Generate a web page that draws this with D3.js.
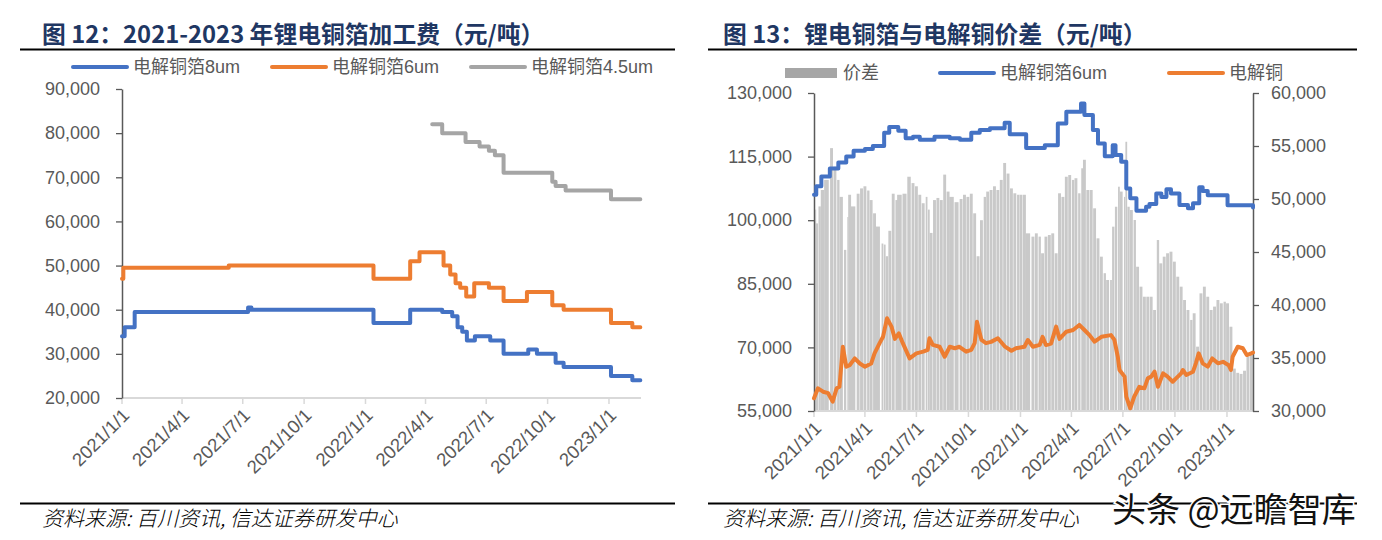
<!DOCTYPE html>
<html><head><meta charset="utf-8">
<script src="https://cdn.jsdelivr.net/npm/d3@7"></script>
<style>
body{margin:0;background:#fff;}
svg text{font-family:"Liberation Sans",Arial,"Noto Sans CJK SC",sans-serif;}
</style></head><body>
<svg id="c" width="1382" height="540"></svg>
<script>
// ---------- DATA (left chart: processing fee, 元/吨) ----------
const leftTitle = "图 12：2021-2023 年锂电铜箔加工费（元/吨）";
const leftSeriesNames = ["电解铜箔8um", "电解铜箔6um", "电解铜箔4.5um"];
const foil8um = [["2021-01-01",34000],["2021-01-05",36000],["2021-01-20",39500],["2021-07-09",40500],["2021-07-14",40000],["2022-01-13",37000],["2022-03-09",40000],["2022-04-26",39500],["2022-05-11",38500],["2022-05-19",36000],["2022-05-26",35000],["2022-06-02",33000],["2022-06-14",34000],["2022-07-07",33000],["2022-07-27",30000],["2022-09-02",31000],["2022-09-15",30000],["2022-10-13",28000],["2022-10-25",27000],["2023-01-04",25000],["2023-02-05",24000],["2023-02-17",24000]];
const foil6um = [["2021-01-01",47000],["2021-01-03",49500],["2021-06-10",50000],["2022-01-13",47000],["2022-03-09",51000],["2022-03-23",53000],["2022-04-28",50000],["2022-05-08",48000],["2022-05-16",46000],["2022-05-23",45000],["2022-06-01",43000],["2022-06-13",46000],["2022-07-05",45000],["2022-07-27",42000],["2022-08-31",44000],["2022-10-08",41000],["2022-10-25",40000],["2023-01-04",37000],["2023-02-05",36000],["2023-02-17",36000]];
const foil45um = [["2022-04-11",82000],["2022-04-26",80000],["2022-05-31",78000],["2022-06-21",77000],["2022-07-05",76000],["2022-07-14",75000],["2022-07-27",71000],["2022-10-08",69000],["2022-10-13",68000],["2022-10-28",67000],["2023-01-04",65000],["2023-02-17",65000]];
const leftYTicks = [20000,30000,40000,50000,60000,70000,80000,90000];
const xTickLabels = ["2021/1/1","2021/4/1","2021/7/1","2021/10/1","2022/1/1","2022/4/1","2022/7/1","2022/10/1","2023/1/1"];

// ---------- DATA (right chart: foil vs copper, 元/吨) ----------
const rightTitle = "图 13：锂电铜箔与电解铜价差（元/吨）";
const rightSeriesNames = ["价差", "电解铜箔6um", "电解铜"];
const spread = [["2021-01-04",49000],["2021-01-06",47700],["2021-01-11",49300],["2021-01-16",50850],["2021-01-23",51800],["2021-02-01",54800],["2021-02-07",53050],["2021-02-13",51800],["2021-02-18",50200],["2021-02-25",45200],["2021-03-02",48300],["2021-03-05",50400],["2021-03-11",49300],["2021-03-20",50500],["2021-03-26",51000],["2021-04-01",51200],["2021-04-07",50800],["2021-04-12",49900],["2021-04-18",48650],["2021-04-24",47400],["2021-05-02",45800],["2021-05-06",45700],["2021-05-10",44600],["2021-05-15",47000],["2021-05-21",50500],["2021-05-27",49900],["2021-06-01",50400],["2021-06-10",50500],["2021-06-18",52100],["2021-06-25",51500],["2021-07-01",51200],["2021-07-07",50400],["2021-07-13",49600],["2021-07-19",50200],["2021-07-23",49000],["2021-07-27",46800],["2021-08-02",49900],["2021-08-08",50100],["2021-08-14",49900],["2021-08-20",52300],["2021-08-26",50700],["2021-09-01",50200],["2021-09-10",49700],["2021-09-18",50000],["2021-09-24",50400],["2021-09-30",50200],["2021-10-06",50500],["2021-10-12",48650],["2021-10-18",44600],["2021-10-24",48000],["2021-10-30",50200],["2021-11-04",50700],["2021-11-10",50850],["2021-11-16",51200],["2021-11-22",50850],["2021-11-28",51800],["2021-12-04",53400],["2021-12-10",52400],["2021-12-16",51000],["2021-12-22",50540],["2021-12-28",50400],["2022-01-02",50400],["2022-01-08",50400],["2022-01-14",46760],["2022-01-23",46450],["2022-01-29",46760],["2022-02-04",46450],["2022-02-09",44880],["2022-02-15",46450],["2022-02-21",46600],["2022-02-27",46760],["2022-03-05",44880],["2022-03-11",50540],["2022-03-17",50200],["2022-03-23",52100],["2022-03-29",52260],["2022-04-04",51800],["2022-04-09",51960],["2022-04-15",50540],["2022-04-20",52900],["2022-04-24",53700],["2022-04-30",50850],["2022-05-06",50850],["2022-05-12",49120],["2022-05-18",46290],["2022-05-24",44560],["2022-05-30",43000],["2022-06-04",42360],["2022-06-10",42360],["2022-06-14",47390],["2022-06-19",49270],["2022-06-24",51160],["2022-06-28",50700],["2022-07-04",50200],["2022-07-07",55400],["2022-07-11",49270],["2022-07-16",48960],["2022-07-22",48020],["2022-07-27",43610],["2022-08-02",41730],["2022-08-08",40780],["2022-08-14",40780],["2022-08-20",40780],["2022-08-26",39530],["2022-09-01",46130],["2022-09-06",43930],["2022-09-12",44560],["2022-09-18",44880],["2022-09-24",45030],["2022-09-30",44090],["2022-10-06",42670],["2022-10-12",41730],["2022-10-18",40470],["2022-10-24",39530],["2022-10-30",38590],["2022-11-04",39220],["2022-11-10",36070],["2022-11-16",41100],["2022-11-22",41730],["2022-11-28",40780],["2022-12-04",39530],["2022-12-10",39850],["2022-12-16",40470],["2022-12-22",40160],["2022-12-28",40310],["2023-01-02",40160],["2023-01-08",37950],["2023-01-14",34000],["2023-01-20",33600],["2023-01-26",33500],["2023-02-01",33800],["2023-02-07",35120],["2023-02-13",35400]];
const foilPrice6um = [["2021-01-01",106000],["2021-01-05",108000],["2021-01-14",110300],["2021-01-29",112200],["2021-02-13",113600],["2021-02-27",115000],["2021-03-12",116400],["2021-04-01",116800],["2021-04-15",117500],["2021-05-05",120600],["2021-05-14",122000],["2021-05-30",121100],["2021-06-12",119300],["2021-06-25",119700],["2021-07-07",119000],["2021-08-02",119700],["2021-08-29",119300],["2021-09-16",119000],["2021-10-06",120600],["2021-10-21",121300],["2021-11-08",121700],["2021-12-04",123000],["2021-12-13",120300],["2022-01-11",117000],["2022-02-13",117700],["2022-03-08",122800],["2022-03-23",125600],["2022-04-18",127500],["2022-04-24",124800],["2022-05-09",121300],["2022-05-18",118100],["2022-05-30",115100],["2022-06-13",117700],["2022-06-18",115400],["2022-06-28",113800],["2022-07-07",107500],["2022-07-14",105200],["2022-07-25",102200],["2022-08-11",103200],["2022-08-17",103800],["2022-08-29",106300],["2022-09-07",105500],["2022-09-16",107300],["2022-09-24",106300],["2022-10-09",103600],["2022-10-24",102800],["2022-11-02",104000],["2022-11-13",107800],["2022-11-19",106900],["2022-11-28",105900],["2023-01-02",103500],["2023-02-16",103000]];
const copperPrice = [["2021-01-01",58000],["2021-01-08",60350],["2021-01-17",59550],["2021-01-26",59200],["2021-02-03",57200],["2021-02-10",60350],["2021-02-15",60700],["2021-02-21",70150],["2021-02-27",65450],["2021-03-05",65800],["2021-03-14",67400],["2021-03-23",66200],["2021-04-01",65450],["2021-04-12",66200],["2021-04-18",68600],["2021-04-27",71000],["2021-05-03",72500],["2021-05-10",76860],["2021-05-18",74900],["2021-05-24",72000],["2021-05-31",73300],["2021-06-07",71000],["2021-06-19",67400],["2021-07-01",68600],["2021-07-13",69000],["2021-07-21",69400],["2021-07-24",72150],["2021-07-30",70600],["2021-08-11",70150],["2021-08-20",67800],["2021-08-29",70150],["2021-09-07",69800],["2021-09-15",70150],["2021-09-27",69000],["2021-10-06",69400],["2021-10-12",71000],["2021-10-16",76070],["2021-10-24",71750],["2021-11-01",71000],["2021-11-10",71300],["2021-11-22",72150],["2021-12-04",70260],["2021-12-16",69200],["2021-12-24",69800],["2022-01-08",70150],["2022-01-14",71750],["2022-01-23",70150],["2022-02-04",70600],["2022-02-09",72500],["2022-02-15",70570],["2022-02-24",70900],["2022-03-05",74900],["2022-03-11",72000],["2022-03-23",73700],["2022-04-04",74100],["2022-04-15",75300],["2022-04-24",74100],["2022-05-03",72900],["2022-05-12",71350],["2022-05-24",72500],["2022-06-10",72900],["2022-06-16",71750],["2022-06-22",67800],["2022-06-25",64670],["2022-07-04",63100],["2022-07-07",58400],["2022-07-14",55640],["2022-07-21",58400],["2022-07-30",60700],["2022-08-08",60350],["2022-08-14",62700],["2022-08-20",63100],["2022-08-26",64270],["2022-09-01",60700],["2022-09-10",63880],["2022-09-18",63100],["2022-09-27",61900],["2022-10-03",62700],["2022-10-12",63880],["2022-10-15",64670],["2022-10-21",63500],["2022-11-02",64270],["2022-11-07",66250],["2022-11-12",68600],["2022-11-19",66250],["2022-11-28",65450],["2022-12-06",67400],["2022-12-16",66250],["2022-12-25",66600],["2023-01-04",65800],["2023-01-08",64670],["2023-01-11",67800],["2023-01-20",70150],["2023-01-29",69800],["2023-02-05",68200],["2023-02-13",68600],["2023-02-16",68800]];
const rightLeftTicks = [55000,70000,85000,100000,115000,130000];
const rightRightTicks = [30000,35000,40000,45000,50000,55000,60000];
const sourceNote = "资料来源: 百川资讯, 信达证券研发中心";
const watermark = "头条 @远瞻智库";

// ---------- DRAW ----------
const parse = d3.timeParse("%Y-%m-%d");
const parseTick = d3.timeParse("%Y/%m/%d");
const svg = d3.select("#c");
const C = {blue:"#4472C4", orange:"#ED7D31", gray:"#A5A5A5", bar:"#C9C9C9", axis:"#595959", light:"#D9D9D9", title:"#1F3763"};
const fmt = d3.format(",");
const xTicks = xTickLabels.map(parseTick);

function header(x0, x1, tx, title){
  svg.append("text").attr("x",tx).attr("y",43).attr("font-size",23.8).attr("font-weight","bold")
     .attr("fill",C.title).style("font-family",'"Noto Sans CJK SC",sans-serif').text(title);
  svg.append("line").attr("x1",x0).attr("x2",x1).attr("y1",49.5).attr("y2",49.5).attr("stroke","#000").attr("stroke-width",2.2);
  svg.append("line").attr("x1",x0).attr("x2",x1).attr("y1",503.5).attr("y2",503.5).attr("stroke","#000").attr("stroke-width",2.2);
  svg.append("text").attr("x",tx).attr("y",526).attr("font-size",21).attr("font-style","italic").attr("font-weight",300)
     .attr("fill","#000").style("font-family",'"Noto Sans CJK SC",serif').text(sourceNote);
}

function xAxis(g, x, y0, x1){
  g.append("line").attr("x1",x.range()[0]).attr("x2",x1).attr("y1",y0).attr("y2",y0).attr("stroke",C.light).attr("stroke-width",2);
  g.selectAll("line.xt").data(xTicks).join("line").attr("class","xt")
    .attr("x1",d=>x(d)).attr("x2",d=>x(d)).attr("y1",y0).attr("y2",y0+6).attr("stroke",C.light).attr("stroke-width",1.5);
  g.selectAll("text.xl").data(xTicks).join("text").attr("class","xl")
    .attr("transform",d=>`translate(${x(d)+4},${y0+14}) rotate(-45)`)
    .attr("text-anchor","end").attr("dy","0.35em").attr("font-size",18.5).attr("fill",C.axis)
    .text((d,i)=>xTickLabels[i]);
}

function yAxis(g, y, xpos, ticks, side){
  const ax = (side==="left"?d3.axisLeft(y):d3.axisRight(y)).tickValues(ticks).tickFormat(fmt).tickSizeInner(6).tickSizeOuter(0).tickPadding(side==="left"?16:12);
  const a = g.append("g").attr("transform",`translate(${xpos},0)`).call(ax);
  a.select(".domain").attr("stroke",C.axis).attr("stroke-width",1.5);
  a.selectAll(".tick line").attr("stroke",C.axis).attr("stroke-width",1.3);
  a.selectAll(".tick text").attr("font-size",18).attr("fill",C.axis).style("font-family",'"Liberation Sans",Arial,sans-serif');
}

// ---- Left chart ----
header(20, 675, 42, leftTitle);
{
  const x = d3.scaleTime().domain([parse("2021-01-01"), parse("2023-02-18")]).range([122, 641]);
  const y = d3.scaleLinear().domain([20000, 90000]).range([398, 89]);
  const g = svg.append("g");
  xAxis(g, x, 398, 641);
  yAxis(g, y, 122, leftYTicks, "left");
  const line = d3.line().x(d=>x(parse(d[0]))).y(d=>y(d[1])).curve(d3.curveStepAfter);
  [[foil8um,C.blue],[foil6um,C.orange],[foil45um,C.gray]].forEach(([s,c])=>{
    g.append("path").attr("d",line(s)).attr("fill","none").attr("stroke",c).attr("stroke-width",4)
     .attr("stroke-linejoin","round").attr("stroke-linecap","round");
  });
  const lg = [[73,C.blue,leftSeriesNames[0]],[272,C.orange,leftSeriesNames[1]],[471,C.gray,leftSeriesNames[2]]];
  lg.forEach(([lx,c,t])=>{
    svg.append("line").attr("x1",lx).attr("x2",lx+54).attr("y1",67).attr("y2",67).attr("stroke",c).attr("stroke-width",4).attr("stroke-linecap","round");
    svg.append("text").attr("x",lx+60).attr("y",67).attr("dy","0.35em").attr("font-size",18).attr("fill",C.axis).text(t);
  });
}

// ---- Right chart ----
header(708, 1357, 723, rightTitle);
{
  const x = d3.scaleTime().domain([parse("2021-01-01"), parse("2023-02-16")]).range([814, 1253]);
  const yL = d3.scaleLinear().domain([55000, 130000]).range([411, 93]);
  const yR = d3.scaleLinear().domain([30000, 60000]).range([411, 93]);
  const g = svg.append("g");
  const bw = (i)=> i<spread.length-1 ? x(parse(spread[i+1][0]))-x(parse(spread[i][0])) : 3.4;
  g.selectAll("rect.b").data(spread).join("rect").attr("class","b")
    .attr("x",(d,i)=>x(parse(d[0]))-bw(i)/2+0.25).attr("width",(d,i)=>Math.max(bw(i)-0.5,0.8))
    .attr("y",d=>yR(d[1])).attr("height",d=>yR(30000)-yR(d[1])).attr("fill",C.bar);
  xAxis(g, x, 411, 1253);
  yAxis(g, yL, 814, rightLeftTicks, "left");
  yAxis(g, yR, 1253, rightRightTicks, "right");
  const stepLine = d3.line().x(d=>x(parse(d[0]))).y(d=>yL(d[1])).curve(d3.curveStepAfter);
  const lin = d3.line().x(d=>x(parse(d[0]))).y(d=>yL(d[1]));
  g.append("path").attr("d",lin(copperPrice)).attr("fill","none").attr("stroke",C.orange).attr("stroke-width",4).attr("stroke-linejoin","round").attr("stroke-linecap","round");
  g.append("path").attr("d",stepLine(foilPrice6um)).attr("fill","none").attr("stroke",C.blue).attr("stroke-width",4).attr("stroke-linejoin","round").attr("stroke-linecap","round");
  svg.append("rect").attr("x",785).attr("y",68).attr("width",52).attr("height",10).attr("fill","#A6A6A6");
  svg.append("text").attr("x",843).attr("y",73).attr("dy","0.35em").attr("font-size",18).attr("fill",C.axis).text(rightSeriesNames[0]);
  [[940,C.blue,rightSeriesNames[1]],[1169,C.orange,rightSeriesNames[2]]].forEach(([lx,c,t])=>{
    svg.append("line").attr("x1",lx).attr("x2",lx+54).attr("y1",73).attr("y2",73).attr("stroke",c).attr("stroke-width",4).attr("stroke-linecap","round");
    svg.append("text").attr("x",lx+60).attr("y",73).attr("dy","0.35em").attr("font-size",18).attr("fill",C.axis).text(t);
  });
}
svg.append("text").attr("x",1112).attr("y",522).attr("font-size",34).attr("fill","#111")
  .attr("stroke","#fff").attr("stroke-width",3).attr("paint-order","stroke")
  .style("font-family",'"Noto Sans CJK SC",sans-serif').text(watermark);
</script>
</body></html>
